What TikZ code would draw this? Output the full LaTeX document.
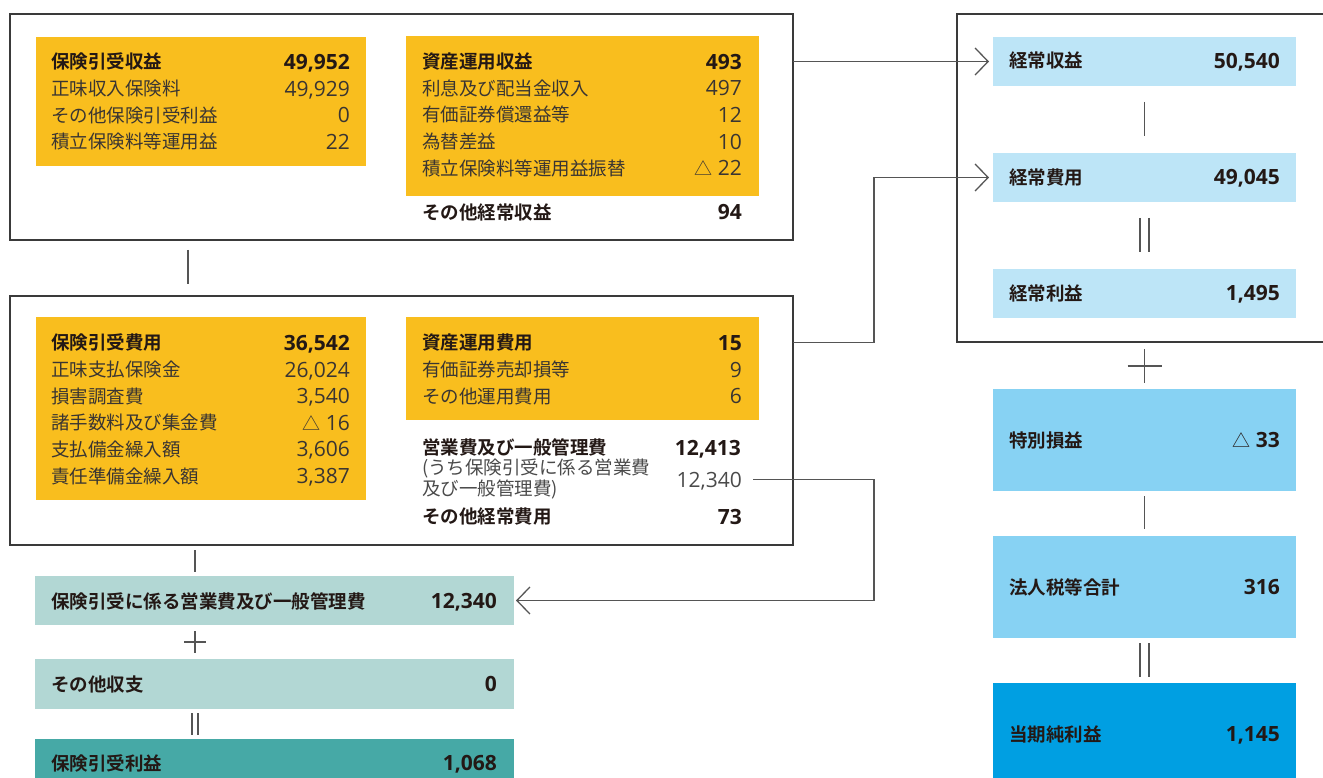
\documentclass[tikz,border=0pt]{standalone}
\usepackage{fontspec}
\setmainfont{Noto Sans CJK JP}[BoldFont={Noto Sans CJK JP Bold}]
\newfontfamily\numfont{Open Sans}
\usetikzlibrary{arrows.meta,calc}
\definecolor{ylw}{HTML}{F9BE1E}
\definecolor{lblue}{HTML}{BDE5F7}
\definecolor{mblue}{HTML}{87D2F3}
\definecolor{sblue}{HTML}{009FE2}
\definecolor{lteal}{HTML}{B2D7D4}
\definecolor{dteal}{HTML}{46A9A6}
\definecolor{frm}{HTML}{3A3A3A}
\definecolor{cline}{HTML}{555555}
\definecolor{txtb}{HTML}{231815}
\definecolor{txtr}{HTML}{3A3532}
\definecolor{txtg}{HTML}{4A4A4A}
\newcommand\fl{\fontsize{18.5}{21}\selectfont}
\newcommand\fnm{\numfont\fontsize{21}{24}\selectfont}
\newcommand\tri{{\rmfamily\mdseries\fontsize{18}{20}\selectfont △}\hspace{5pt}}
\begin{document}
\begin{tikzpicture}[x=1pt,y=-1pt,
  box/.style={draw=none,inner sep=0,outer sep=0,anchor=north west},
  frame/.style={draw=frm,line width=1.1pt,inner sep=0,outer sep=0,anchor=north west},
  lr/.style={anchor=west,inner sep=0,text height=16.3pt,text depth=2.3pt,font=\fl,text=txtr},
  lb/.style={lr,font=\fl\bfseries,text=txtb},
  nr/.style={anchor=east,inner sep=0,text height=17pt,text depth=2pt,font=\fnm,text=txtr},
  nb/.style={nr,font=\fnm\bfseries,text=txtb},
  conn/.style={draw=cline,line width=1.3pt},
  tip/.style={-{Straight Barb[length=13pt,width=27pt]}},
  markline/.style={draw=cline,line width=1.3pt}]
\useasboundingbox (0,0) rectangle (1323,778);

% frames
\node[frame,minimum width=783pt,minimum height=226pt] (o1) at (10,14) {};
\node[frame,minimum width=783pt,minimum height=249pt] (o2) at (10,296) {};
\node[frame,minimum width=400pt,minimum height=328pt] (ro) at (957,14) {};

% yellow boxes
\node[box,fill=ylw,minimum width=330pt,minimum height=129pt] (y1) at (36,37) {};
\node[box,fill=ylw,minimum width=353pt,minimum height=160pt] (y2) at (406,36) {};
\node[box,fill=ylw,minimum width=330pt,minimum height=183pt] (y3) at (36,317) {};
\node[box,fill=ylw,minimum width=353pt,minimum height=103pt] (y4) at (406,317) {};

% right column boxes
\node[box,fill=lblue,minimum width=303pt,minimum height=49pt] (b1) at (993,37) {};
\node[box,fill=lblue,minimum width=303pt,minimum height=49pt] (b2) at (993,153) {};
\node[box,fill=lblue,minimum width=303pt,minimum height=49pt] (b3) at (993,269) {};
\node[box,fill=mblue,minimum width=303pt,minimum height=102pt] (m1) at (993,389) {};
\node[box,fill=mblue,minimum width=303pt,minimum height=102pt] (m2) at (993,536) {};
\node[box,fill=sblue,minimum width=303pt,minimum height=100pt] (d1) at (993,683) {};

% bottom-left boxes
\node[box,fill=lteal,minimum width=479pt,minimum height=49pt] (g1) at (35,576) {};
\node[box,fill=lteal,minimum width=479pt,minimum height=50pt] (g2) at (35,659) {};
\node[box,fill=dteal,minimum width=479pt,minimum height=45pt] (g3) at (35,739) {};

% y1 texts
\node[lb] (t11) at (51,62) {保険引受収益};
\node[nb] (v11) at (350,62) {49,952};
\node[lr] (t12) at (51,89) {正味収入保険料};
\node[nr] (v12) at (350,89) {49,929};
\node[lr] (t13) at (51,115.5) {その他保険引受利益};
\node[nr] (v13) at (350,115.5) {0};
\node[lr] (t14) at (51,142) {積立保険料等運用益};
\node[nr] (v14) at (350,142) {22};

% y2 texts
\node[lb] (t21) at (422,62) {資産運用収益};
\node[nb] (v21) at (742,62) {493};
\node[lr] (t22) at (422,88.5) {利息及び配当金収入};
\node[nr] (v22) at (742,88.5) {497};
\node[lr] (t23) at (422,115) {有価証券償還益等};
\node[nr] (v23) at (742,115) {12};
\node[lr] (t24) at (422,142) {為替差益};
\node[nr] (v24) at (742,142) {10};
\node[lr] (t25) at (422,168.5) {積立保険料等運用益振替};
\node[nr] (v25) at (742,168.5) {\tri 22};
\node[lb] (t26) at (422,212.5) {その他経常収益};
\node[nb] (v26) at (742,212.5) {94};

% y3 texts
\node[lb] (t31) at (51,342.5) {保険引受費用};
\node[nb] (v31) at (350,342.5) {36,542};
\node[lr] (t32) at (51,369.5) {正味支払保険金};
\node[nr] (v32) at (350,369.5) {26,024};
\node[lr] (t33) at (51,396) {損害調査費};
\node[nr] (v33) at (350,396) {3,540};
\node[lr] (t34) at (51,422.5) {諸手数料及び集金費};
\node[nr] (v34) at (350,422.5) {\tri 16};
\node[lr] (t35) at (51,449) {支払備金繰入額};
\node[nr] (v35) at (350,449) {3,606};
\node[lr] (t36) at (51,476) {責任準備金繰入額};
\node[nr] (v36) at (350,476) {3,387};

% y4 texts
\node[lb] (t41) at (422,342.5) {資産運用費用};
\node[nb] (v41) at (742,342.5) {15};
\node[lr] (t42) at (422,369.5) {有価証券売却損等};
\node[nr] (v42) at (742,369.5) {9};
\node[lr] (t43) at (422,396) {その他運用費用};
\node[nr] (v43) at (742,396) {6};
\node[lb] (t44) at (422,447.5) {営業費及び一般管理費};
\node[nb] (v44) at (741,447.5) {12,413};
\node[anchor=west,inner sep=0,align=left,font=\fontsize{18.5}{21}\selectfont,text=txtg] (t45) at (422,479.5) {(うち保険引受に係る営業費\\及び一般管理費)};
\node[nr,text=txtg] (v45) at (742,479.5) {12,340};
\node[lb] (t46) at (422,516.5) {その他経常費用};
\node[nb] (v46) at (742,516.5) {73};

% right column texts
\node[lb] (r1) at (1009,61) {経常収益};
\node[nb] (rv1) at (1280,61) {50,540};
\node[lb] (r2) at (1009,177.5) {経常費用};
\node[nb] (rv2) at (1280,177.5) {49,045};
\node[lb] (r3) at (1009,293.5) {経常利益};
\node[nb] (rv3) at (1280,293.5) {1,495};
\node[lb] (r4) at (1009,440) {特別損益};
\node[nb] (rv4) at (1280,440) {\tri 33};
\node[lb] (r5) at (1009,587) {法人税等合計};
\node[nb] (rv5) at (1280,587) {316};
\node[lb] (r6) at (1009,734) {当期純利益};
\node[nb] (rv6) at (1280,734) {1,145};

% bottom-left texts
\node[lb] (s1) at (51,601) {保険引受に係る営業費及び一般管理費};
\node[nb] (sv1) at (497,601) {12,340};
\node[lb] (s2) at (51,684) {その他収支};
\node[nb] (sv2) at (497,684) {0};
\node[lb] (s3) at (51,763) {保険引受利益};
\node[nb] (sv3) at (497,763) {1,068};

% operator marks, right column
\draw[markline] ($(b1.south)+(0,16)$) -- ($(b2.north)+(0,-17)$);
\draw[markline] ($(b2.south)+(-4.5,16)$) -- ($(b3.north)+(-4.5,-17)$);
\draw[markline] ($(b2.south)+(4.5,16)$) -- ($(b3.north)+(4.5,-17)$);
\coordinate (pr) at ($(m1.north)+(0,-23)$);
\draw[markline] ($(pr)+(0,-17)$) -- ($(pr)+(0,17)$);
\draw[markline] ($(pr)+(-17,0)$) -- ($(pr)+(17,0)$);
\draw[markline] ($(m1.south)+(0,5)$) -- ($(m2.north)+(0,-7)$);
\draw[markline] ($(m2.south)+(-4.5,5)$) -- ($(d1.north)+(-4.5,-6)$);
\draw[markline] ($(m2.south)+(4.5,5)$) -- ($(d1.north)+(4.5,-6)$);

% operator marks, left column
\draw[markline] ($(o1.south west)+(178,10)$) -- ($(o2.north west)+(178,-12)$);
\draw[markline] ($(o2.south west)+(185,5)$) -- ($(g1.north west)+(160,-4)$);
\coordinate (pl) at ($(g1.south west)+(160,17)$);
\draw[markline] ($(pl)+(0,-11)$) -- ($(pl)+(0,11)$);
\draw[markline] ($(pl)+(-11,0)$) -- ($(pl)+(11,0)$);
\draw[markline] ($(g2.south west)+(157,4)$) -- ($(g3.north west)+(157,-4)$);
\draw[markline] ($(g2.south west)+(163,4)$) -- ($(g3.north west)+(163,-4)$);

% connectors
\coordinate (k1) at (874,0);
\draw[conn,tip] (o1.east |- b1.west) -- ($(b1.west)+(-4,0)$);
\draw[conn,tip] (o2.east |- t41) -| (k1 |- b2.west) -- ($(b2.west)+(-4,0)$);
\draw[conn,tip] ($(v45.east)+(11,0)$) -| (k1 |- g1.east) -- ($(g1.east)+(2,0)$);
\end{tikzpicture}
\end{document}
